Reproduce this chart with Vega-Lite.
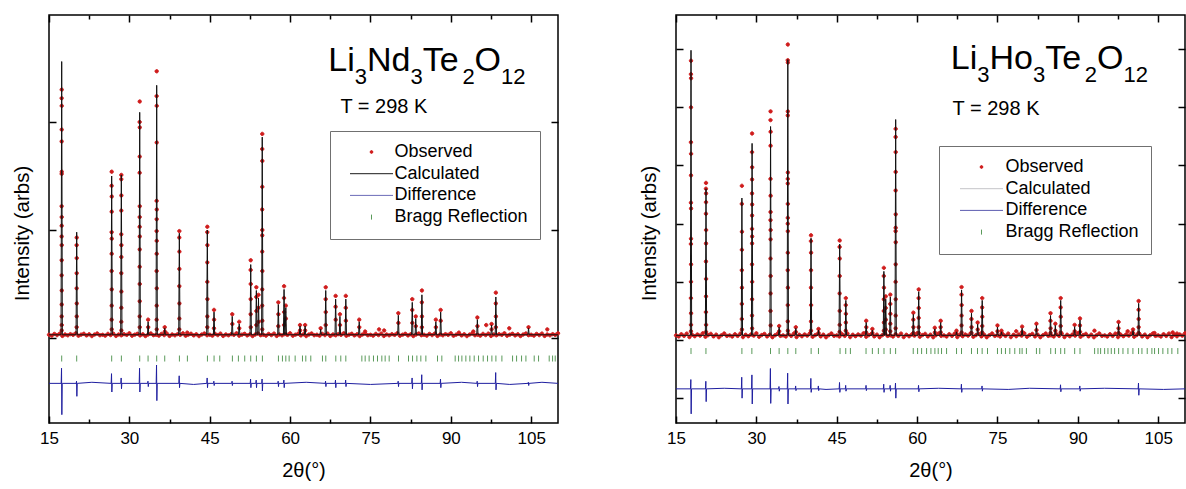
{
"$schema":"https://vega.github.io/schema/vega-lite/v6.json",
"background":"white",
"padding":{"left":11,"top":13,"right":2,"bottom":2},
"spacing":75,
"datasets":{
"nd_o":[
{"t":15,"i":0.03},{"t":15.5,"i":0.022},{"t":16,"i":0.038},{"t":16.5,"i":0.027},{"t":17,"i":0.041},{"t":17.5,"i":0.019},{"t":18,"i":0.033},{"t":18.5,"i":0.025},{"t":19,"i":0.036},{"t":19.5,"i":0.029},{"t":20,"i":0.044},{"t":20.5,"i":0.021},{"t":21,"i":0.031},{"t":21.5,"i":0.039},{"t":22,"i":0.024},{"t":22.5,"i":0.035},{"t":23,"i":0.018},{"t":23.5,"i":0.032},{"t":24,"i":0.042},{"t":24.5,"i":0.026},
{"t":25,"i":0.03},{"t":25.5,"i":0.022},{"t":26,"i":0.038},{"t":26.5,"i":0.027},{"t":27,"i":0.041},{"t":27.5,"i":0.019},{"t":28,"i":0.033},{"t":28.5,"i":0.025},{"t":29,"i":0.036},{"t":29.5,"i":0.029},{"t":30,"i":0.044},{"t":30.5,"i":0.021},{"t":31,"i":0.031},{"t":31.5,"i":0.039},{"t":32,"i":0.024},{"t":32.5,"i":0.035},{"t":33,"i":0.018},{"t":33.5,"i":0.032},{"t":34,"i":0.042},{"t":34.5,"i":0.026},
{"t":35,"i":0.03},{"t":35.5,"i":0.022},{"t":36,"i":0.038},{"t":36.5,"i":0.027},{"t":37,"i":0.041},{"t":37.5,"i":0.019},{"t":38,"i":0.033},{"t":38.5,"i":0.025},{"t":39,"i":0.036},{"t":39.5,"i":0.029},{"t":40,"i":0.044},{"t":40.5,"i":0.021},{"t":41,"i":0.031},{"t":41.5,"i":0.039},{"t":42,"i":0.024},{"t":42.5,"i":0.035},{"t":43,"i":0.018},{"t":43.5,"i":0.032},{"t":44,"i":0.042},{"t":44.5,"i":0.026},
{"t":45,"i":0.03},{"t":45.5,"i":0.022},{"t":46,"i":0.038},{"t":46.5,"i":0.027},{"t":47,"i":0.041},{"t":47.5,"i":0.019},{"t":48,"i":0.033},{"t":48.5,"i":0.025},{"t":49,"i":0.036},{"t":49.5,"i":0.029},{"t":50,"i":0.044},{"t":50.5,"i":0.021},{"t":51,"i":0.031},{"t":51.5,"i":0.039},{"t":52,"i":0.024},{"t":52.5,"i":0.035},{"t":53,"i":0.018},{"t":53.5,"i":0.032},{"t":54,"i":0.042},{"t":54.5,"i":0.026},
{"t":55,"i":0.03},{"t":55.5,"i":0.022},{"t":56,"i":0.038},{"t":56.5,"i":0.027},{"t":57,"i":0.041},{"t":57.5,"i":0.019},{"t":58,"i":0.033},{"t":58.5,"i":0.025},{"t":59,"i":0.036},{"t":59.5,"i":0.029},{"t":60,"i":0.044},{"t":60.5,"i":0.021},{"t":61,"i":0.031},{"t":61.5,"i":0.039},{"t":62,"i":0.024},{"t":62.5,"i":0.035},{"t":63,"i":0.018},{"t":63.5,"i":0.032},{"t":64,"i":0.042},{"t":64.5,"i":0.026},
{"t":65,"i":0.03},{"t":65.5,"i":0.022},{"t":66,"i":0.038},{"t":66.5,"i":0.027},{"t":67,"i":0.041},{"t":67.5,"i":0.019},{"t":68,"i":0.033},{"t":68.5,"i":0.025},{"t":69,"i":0.036},{"t":69.5,"i":0.029},{"t":70,"i":0.044},{"t":70.5,"i":0.021},{"t":71,"i":0.031},{"t":71.5,"i":0.039},{"t":72,"i":0.024},{"t":72.5,"i":0.035},{"t":73,"i":0.018},{"t":73.5,"i":0.032},{"t":74,"i":0.042},{"t":74.5,"i":0.026},
{"t":75,"i":0.03},{"t":75.5,"i":0.022},{"t":76,"i":0.038},{"t":76.5,"i":0.027},{"t":77,"i":0.041},{"t":77.5,"i":0.019},{"t":78,"i":0.033},{"t":78.5,"i":0.025},{"t":79,"i":0.036},{"t":79.5,"i":0.029},{"t":80,"i":0.044},{"t":80.5,"i":0.021},{"t":81,"i":0.031},{"t":81.5,"i":0.039},{"t":82,"i":0.024},{"t":82.5,"i":0.035},{"t":83,"i":0.018},{"t":83.5,"i":0.032},{"t":84,"i":0.042},{"t":84.5,"i":0.026},
{"t":85,"i":0.03},{"t":85.5,"i":0.022},{"t":86,"i":0.038},{"t":86.5,"i":0.027},{"t":87,"i":0.041},{"t":87.5,"i":0.019},{"t":88,"i":0.033},{"t":88.5,"i":0.025},{"t":89,"i":0.036},{"t":89.5,"i":0.029},{"t":90,"i":0.044},{"t":90.5,"i":0.021},{"t":91,"i":0.031},{"t":91.5,"i":0.039},{"t":92,"i":0.024},{"t":92.5,"i":0.035},{"t":93,"i":0.018},{"t":93.5,"i":0.032},{"t":94,"i":0.042},{"t":94.5,"i":0.026},
{"t":95,"i":0.03},{"t":95.5,"i":0.022},{"t":96,"i":0.038},{"t":96.5,"i":0.027},{"t":97,"i":0.041},{"t":97.5,"i":0.019},{"t":98,"i":0.033},{"t":98.5,"i":0.025},{"t":99,"i":0.036},{"t":99.5,"i":0.029},{"t":100,"i":0.044},{"t":100.5,"i":0.021},{"t":101,"i":0.031},{"t":101.5,"i":0.039},{"t":102,"i":0.024},{"t":102.5,"i":0.035},{"t":103,"i":0.018},{"t":103.5,"i":0.032},{"t":104,"i":0.042},{"t":104.5,"i":0.026},
{"t":105,"i":0.03},{"t":105.5,"i":0.022},{"t":106,"i":0.038},{"t":106.5,"i":0.027},{"t":107,"i":0.041},{"t":107.5,"i":0.019},{"t":108,"i":0.033},{"t":108.5,"i":0.025},{"t":109,"i":0.036},{"t":109.5,"i":0.029},{"t":110,"i":0.044},
{"t":17.37,"i":2.3},{"t":17.36,"i":2.22},{"t":17.38,"i":2.15},{"t":17.37,"i":1.93},{"t":17.36,"i":1.82},{"t":17.38,"i":1.54},{"t":17.37,"i":1.52},{"t":17.36,"i":1.22},{"t":17.38,"i":1.12},{"t":17.37,"i":1.04},{"t":17.36,"i":0.94},{"t":17.38,"i":0.86},{"t":17.37,"i":0.72},{"t":17.36,"i":0.58},{"t":17.38,"i":0.44},{"t":17.37,"i":0.31},{"t":17.36,"i":0.2},{"t":17.38,"i":0.12},{"t":17.37,"i":0.07},
{"t":20.17,"i":0.93},{"t":20.16,"i":0.86},{"t":20.18,"i":0.74},{"t":20.17,"i":0.6},{"t":20.16,"i":0.46},{"t":20.18,"i":0.32},{"t":20.17,"i":0.2},{"t":20.16,"i":0.1},
{"t":26.7,"i":1.54},{"t":26.69,"i":1.41},{"t":26.71,"i":1.31},{"t":26.7,"i":1.17},{"t":26.69,"i":0.98},{"t":26.71,"i":0.92},{"t":26.7,"i":0.78},{"t":26.69,"i":0.62},{"t":26.71,"i":0.45},{"t":26.7,"i":0.3},{"t":26.69,"i":0.17},{"t":26.71,"i":0.08},
{"t":28.5,"i":1.51},{"t":28.49,"i":1.47},{"t":28.51,"i":1.32},{"t":28.5,"i":1.18},{"t":28.49,"i":0.96},{"t":28.51,"i":0.86},{"t":28.5,"i":0.75},{"t":28.49,"i":0.6},{"t":28.51,"i":0.43},{"t":28.5,"i":0.28},{"t":28.49,"i":0.15},{"t":28.51,"i":0.07},
{"t":31.93,"i":2.19},{"t":31.92,"i":2.0},{"t":31.94,"i":1.95},{"t":31.93,"i":1.68},{"t":31.92,"i":1.53},{"t":31.94,"i":1.22},{"t":31.93,"i":1.12},{"t":31.92,"i":1.03},{"t":31.94,"i":0.94},{"t":31.93,"i":0.82},{"t":31.92,"i":0.66},{"t":31.94,"i":0.5},{"t":31.93,"i":0.34},{"t":31.92,"i":0.2},{"t":31.94,"i":0.1},
{"t":33.5,"i":0.17},{"t":33.51,"i":0.1},
{"t":35.1,"i":2.47},{"t":35.09,"i":2.24},{"t":35.11,"i":2.15},{"t":35.1,"i":1.81},{"t":35.09,"i":1.27},{"t":35.11,"i":1.19},{"t":35.1,"i":1.1},{"t":35.09,"i":0.99},{"t":35.11,"i":0.9},{"t":35.1,"i":0.78},{"t":35.09,"i":0.62},{"t":35.11,"i":0.46},{"t":35.1,"i":0.3},{"t":35.09,"i":0.17},{"t":35.11,"i":0.08},
{"t":36.6,"i":0.1},{"t":36.61,"i":0.06},
{"t":39.33,"i":0.99},{"t":39.32,"i":0.93},{"t":39.34,"i":0.8},{"t":39.33,"i":0.64},{"t":39.32,"i":0.48},{"t":39.34,"i":0.32},{"t":39.33,"i":0.18},{"t":39.32,"i":0.08},
{"t":40.8,"i":0.05},
{"t":44.55,"i":1.03},{"t":44.54,"i":0.98},{"t":44.56,"i":0.86},{"t":44.55,"i":0.7},{"t":44.54,"i":0.52},{"t":44.56,"i":0.36},{"t":44.55,"i":0.2},{"t":44.54,"i":0.1},
{"t":45.8,"i":0.26},{"t":45.81,"i":0.17},{"t":45.79,"i":0.09},
{"t":49.2,"i":0.22},{"t":49.21,"i":0.13},
{"t":50.5,"i":0.15},{"t":50.51,"i":0.09},
{"t":52.65,"i":0.72},{"t":52.64,"i":0.63},{"t":52.66,"i":0.5},{"t":52.65,"i":0.36},{"t":52.64,"i":0.22},{"t":52.66,"i":0.1},
{"t":53.7,"i":0.47},{"t":53.69,"i":0.38},{"t":53.71,"i":0.25},{"t":53.7,"i":0.12},
{"t":54.1,"i":0.4},{"t":54.09,"i":0.28},{"t":54.11,"i":0.15},
{"t":54.8,"i":1.89},{"t":54.79,"i":1.75},{"t":54.81,"i":1.64},{"t":54.8,"i":1.4},{"t":54.79,"i":1.19},{"t":54.81,"i":1.0},{"t":54.8,"i":0.95},{"t":54.79,"i":0.8},{"t":54.81,"i":0.62},{"t":54.8,"i":0.45},{"t":54.79,"i":0.3},{"t":54.81,"i":0.16},{"t":54.8,"i":0.08},
{"t":57.8,"i":0.33},{"t":57.81,"i":0.22},{"t":57.79,"i":0.11},
{"t":58.87,"i":0.48},{"t":58.86,"i":0.37},{"t":58.88,"i":0.24},{"t":58.87,"i":0.12},
{"t":59.2,"i":0.3},{"t":59.21,"i":0.18},
{"t":61.85,"i":0.12},{"t":61.86,"i":0.07},
{"t":62.8,"i":0.12},{"t":62.81,"i":0.07},
{"t":65.7,"i":0.09},
{"t":66.65,"i":0.47},{"t":66.64,"i":0.36},{"t":66.66,"i":0.24},{"t":66.65,"i":0.12},
{"t":68.5,"i":0.39},{"t":68.49,"i":0.29},{"t":68.51,"i":0.17},
{"t":69.3,"i":0.22},{"t":69.31,"i":0.12},
{"t":70.4,"i":0.39},{"t":70.39,"i":0.28},{"t":70.41,"i":0.16},
{"t":72.9,"i":0.17},{"t":72.91,"i":0.1},
{"t":74,"i":0.06},{"t":76.6,"i":0.08},{"t":77.55,"i":0.07},
{"t":80.2,"i":0.23},{"t":80.21,"i":0.14},
{"t":82.8,"i":0.36},{"t":82.79,"i":0.26},{"t":82.81,"i":0.14},
{"t":83.45,"i":0.2},{"t":83.46,"i":0.11},
{"t":84.6,"i":0.44},{"t":84.59,"i":0.33},{"t":84.61,"i":0.2},{"t":84.6,"i":0.1},
{"t":87.2,"i":0.17},{"t":87.21,"i":0.1},
{"t":88.1,"i":0.26},{"t":88.11,"i":0.16},
{"t":91.5,"i":0.05},{"t":94.2,"i":0.06},
{"t":94.95,"i":0.19},{"t":94.96,"i":0.11},
{"t":96.6,"i":0.12},
{"t":97.6,"i":0.13},{"t":97.61,"i":0.08},
{"t":98.4,"i":0.42},{"t":98.39,"i":0.32},{"t":98.41,"i":0.2},{"t":98.4,"i":0.1},
{"t":100.9,"i":0.09},{"t":104.5,"i":0.1},{"t":108,"i":0.08}
],
"nd_c":[
{"t":15,"i":0.03},
{"t":17.25,"i":0.03},{"t":17.37,"i":2.56},{"t":17.49,"i":0.03},
{"t":20.05,"i":0.03},{"t":20.17,"i":0.98},{"t":20.29,"i":0.03},
{"t":26.58,"i":0.03},{"t":26.7,"i":1.5},{"t":26.82,"i":0.03},
{"t":28.38,"i":0.03},{"t":28.5,"i":1.51},{"t":28.62,"i":0.03},
{"t":31.81,"i":0.03},{"t":31.93,"i":2.09},{"t":32.05,"i":0.03},
{"t":33.38,"i":0.03},{"t":33.5,"i":0.15},{"t":33.62,"i":0.03},
{"t":34.98,"i":0.03},{"t":35.1,"i":2.34},{"t":35.22,"i":0.03},
{"t":36.48,"i":0.03},{"t":36.6,"i":0.09},{"t":36.72,"i":0.03},
{"t":39.21,"i":0.03},{"t":39.33,"i":0.97},{"t":39.45,"i":0.03},
{"t":44.43,"i":0.03},{"t":44.55,"i":1.0},{"t":44.67,"i":0.03},
{"t":45.68,"i":0.03},{"t":45.8,"i":0.24},{"t":45.92,"i":0.03},
{"t":49.08,"i":0.03},{"t":49.2,"i":0.2},{"t":49.32,"i":0.03},
{"t":50.38,"i":0.03},{"t":50.5,"i":0.13},{"t":50.62,"i":0.03},
{"t":52.53,"i":0.03},{"t":52.65,"i":0.68},{"t":52.77,"i":0.03},
{"t":53.58,"i":0.03},{"t":53.7,"i":0.44},{"t":53.82,"i":0.03},
{"t":53.98,"i":0.03},{"t":54.1,"i":0.37},{"t":54.22,"i":0.03},
{"t":54.68,"i":0.03},{"t":54.8,"i":1.86},{"t":54.92,"i":0.03},
{"t":57.68,"i":0.03},{"t":57.8,"i":0.31},{"t":57.92,"i":0.03},
{"t":58.75,"i":0.03},{"t":58.87,"i":0.45},{"t":58.99,"i":0.03},
{"t":59.08,"i":0.03},{"t":59.2,"i":0.28},{"t":59.32,"i":0.03},
{"t":61.73,"i":0.03},{"t":61.85,"i":0.11},{"t":61.97,"i":0.03},
{"t":62.68,"i":0.03},{"t":62.8,"i":0.11},{"t":62.92,"i":0.03},
{"t":65.58,"i":0.03},{"t":65.7,"i":0.08},{"t":65.82,"i":0.03},
{"t":66.53,"i":0.03},{"t":66.65,"i":0.44},{"t":66.77,"i":0.03},
{"t":68.38,"i":0.03},{"t":68.5,"i":0.36},{"t":68.62,"i":0.03},
{"t":69.18,"i":0.03},{"t":69.3,"i":0.2},{"t":69.42,"i":0.03},
{"t":70.28,"i":0.03},{"t":70.4,"i":0.36},{"t":70.52,"i":0.03},
{"t":72.78,"i":0.03},{"t":72.9,"i":0.15},{"t":73.02,"i":0.03},
{"t":80.08,"i":0.03},{"t":80.2,"i":0.21},{"t":80.32,"i":0.03},
{"t":82.68,"i":0.03},{"t":82.8,"i":0.33},{"t":82.92,"i":0.03},
{"t":83.33,"i":0.03},{"t":83.45,"i":0.18},{"t":83.57,"i":0.03},
{"t":84.48,"i":0.03},{"t":84.6,"i":0.4},{"t":84.72,"i":0.03},
{"t":87.08,"i":0.03},{"t":87.2,"i":0.15},{"t":87.32,"i":0.03},
{"t":87.98,"i":0.03},{"t":88.1,"i":0.24},{"t":88.22,"i":0.03},
{"t":94.83,"i":0.03},{"t":94.95,"i":0.17},{"t":95.07,"i":0.03},
{"t":97.48,"i":0.03},{"t":97.6,"i":0.12},{"t":97.72,"i":0.03},
{"t":98.28,"i":0.03},{"t":98.4,"i":0.38},{"t":98.52,"i":0.03},
{"t":104.38,"i":0.03},{"t":104.5,"i":0.09},{"t":104.62,"i":0.03},
{"t":110,"i":0.03}
],
"nd_d":[
{"t":15,"i":-0.42},
{"t":17.27,"i":-0.42},{"t":17.34,"i":-0.28},{"t":17.4,"i":-0.71},{"t":17.47,"i":-0.42},
{"t":20.07,"i":-0.42},{"t":20.14,"i":-0.4},{"t":20.2,"i":-0.54},{"t":20.27,"i":-0.42},
{"t":23,"i":-0.41},
{"t":26.6,"i":-0.42},{"t":26.67,"i":-0.33},{"t":26.73,"i":-0.5},{"t":26.8,"i":-0.42},
{"t":28.4,"i":-0.42},{"t":28.47,"i":-0.37},{"t":28.53,"i":-0.47},{"t":28.6,"i":-0.42},
{"t":31.83,"i":-0.42},{"t":31.9,"i":-0.28},{"t":31.96,"i":-0.5},{"t":32.03,"i":-0.42},
{"t":33.4,"i":-0.42},{"t":33.47,"i":-0.4},{"t":33.53,"i":-0.45},{"t":33.6,"i":-0.42},
{"t":35,"i":-0.42},{"t":35.07,"i":-0.25},{"t":35.13,"i":-0.58},{"t":35.2,"i":-0.42},
{"t":39.23,"i":-0.42},{"t":39.3,"i":-0.35},{"t":39.36,"i":-0.46},{"t":39.43,"i":-0.42},
{"t":42,"i":-0.43},
{"t":44.45,"i":-0.42},{"t":44.52,"i":-0.37},{"t":44.58,"i":-0.46},{"t":44.65,"i":-0.42},
{"t":45.7,"i":-0.42},{"t":45.77,"i":-0.4},{"t":45.83,"i":-0.44},{"t":45.9,"i":-0.42},
{"t":49.1,"i":-0.42},{"t":49.17,"i":-0.4},{"t":49.23,"i":-0.44},{"t":49.3,"i":-0.42},
{"t":52.55,"i":-0.42},{"t":52.62,"i":-0.38},{"t":52.68,"i":-0.46},{"t":52.75,"i":-0.42},
{"t":53.6,"i":-0.42},{"t":53.67,"i":-0.39},{"t":53.73,"i":-0.46},{"t":53.8,"i":-0.42},
{"t":54.7,"i":-0.42},{"t":54.77,"i":-0.38},{"t":54.83,"i":-0.49},{"t":54.9,"i":-0.42},
{"t":57.7,"i":-0.42},{"t":57.77,"i":-0.4},{"t":57.83,"i":-0.45},{"t":57.9,"i":-0.42},
{"t":58.77,"i":-0.42},{"t":58.84,"i":-0.39},{"t":58.9,"i":-0.46},{"t":58.97,"i":-0.42},
{"t":63,"i":-0.41},
{"t":66.55,"i":-0.42},{"t":66.62,"i":-0.4},{"t":66.68,"i":-0.45},{"t":66.75,"i":-0.42},
{"t":68.4,"i":-0.42},{"t":68.47,"i":-0.39},{"t":68.53,"i":-0.46},{"t":68.6,"i":-0.42},
{"t":70.3,"i":-0.42},{"t":70.37,"i":-0.39},{"t":70.43,"i":-0.45},{"t":70.5,"i":-0.42},
{"t":75,"i":-0.43},
{"t":80.1,"i":-0.42},{"t":80.17,"i":-0.4},{"t":80.23,"i":-0.45},{"t":80.3,"i":-0.42},
{"t":82.7,"i":-0.42},{"t":82.77,"i":-0.37},{"t":82.83,"i":-0.47},{"t":82.9,"i":-0.42},
{"t":84.5,"i":-0.42},{"t":84.57,"i":-0.34},{"t":84.63,"i":-0.48},{"t":84.7,"i":-0.42},
{"t":88,"i":-0.42},{"t":88.07,"i":-0.38},{"t":88.13,"i":-0.46},{"t":88.2,"i":-0.42},
{"t":92,"i":-0.41},
{"t":94.85,"i":-0.42},{"t":94.92,"i":-0.4},{"t":94.98,"i":-0.45},{"t":95.05,"i":-0.42},
{"t":98.3,"i":-0.42},{"t":98.37,"i":-0.32},{"t":98.43,"i":-0.48},{"t":98.5,"i":-0.42},
{"t":101,"i":-0.43},
{"t":104.4,"i":-0.42},{"t":104.47,"i":-0.41},{"t":104.53,"i":-0.44},{"t":104.6,"i":-0.42},
{"t":107,"i":-0.41},
{"t":110,"i":-0.42}
],
"nd_b":[
{"t":17.37},{"t":20.17},{"t":26.7},{"t":28.51},{"t":31.93},{"t":33.49},{"t":35.1},{"t":36.6},{"t":39.34},{"t":40.83},{"t":44.57},{"t":45.81},{"t":46.87},{"t":49.23},{"t":50.35},{"t":51.53},{"t":52.65},{"t":53.71},{"t":54.83},{"t":57.82},{"t":58.57},{"t":59.2},{"t":59.82},{"t":60.94},{"t":62.31},{"t":62.93},{"t":63.86},{"t":66.04},{"t":66.66},{"t":68.53},{"t":69.46},{"t":70.4},{"t":73.39},{"t":74.01},{"t":74.75},{"t":75.56},{"t":76.31},{"t":77.12},{"t":77.74},{"t":78.49},{"t":80.23},{"t":82.1},{"t":82.85},{"t":83.66},{"t":84.4},{"t":85.34},{"t":87.51},{"t":88.32},{"t":90.81},{"t":91.44},{"t":92.06},{"t":92.8},{"t":93.55},{"t":94.36},{"t":95.17},{"t":96.04},{"t":96.85},{"t":97.66},{"t":98.41},{"t":99.53},{"t":101.52},{"t":102.27},{"t":103.2},{"t":104.01},{"t":105.56},{"t":106.37},{"t":108.36},{"t":108.99},{"t":109.48}
],
"ho_o":[
{"t":15,"i":0.08},{"t":15.5,"i":0.06},{"t":16,"i":0.1},{"t":16.5,"i":0.07},{"t":17,"i":0.11},{"t":17.5,"i":0.05},{"t":18,"i":0.09},{"t":18.5,"i":0.065},{"t":19,"i":0.095},{"t":19.5,"i":0.075},{"t":20,"i":0.115},{"t":20.5,"i":0.055},{"t":21,"i":0.085},{"t":21.5,"i":0.105},{"t":22,"i":0.062},{"t":22.5,"i":0.092},{"t":23,"i":0.048},{"t":23.5,"i":0.083},{"t":24,"i":0.112},{"t":24.5,"i":0.07},
{"t":25,"i":0.08},{"t":25.5,"i":0.06},{"t":26,"i":0.1},{"t":26.5,"i":0.07},{"t":27,"i":0.11},{"t":27.5,"i":0.05},{"t":28,"i":0.09},{"t":28.5,"i":0.065},{"t":29,"i":0.095},{"t":29.5,"i":0.075},{"t":30,"i":0.115},{"t":30.5,"i":0.055},{"t":31,"i":0.085},{"t":31.5,"i":0.105},{"t":32,"i":0.062},{"t":32.5,"i":0.092},{"t":33,"i":0.048},{"t":33.5,"i":0.083},{"t":34,"i":0.112},{"t":34.5,"i":0.07},
{"t":35,"i":0.08},{"t":35.5,"i":0.06},{"t":36,"i":0.1},{"t":36.5,"i":0.07},{"t":37,"i":0.11},{"t":37.5,"i":0.05},{"t":38,"i":0.09},{"t":38.5,"i":0.065},{"t":39,"i":0.095},{"t":39.5,"i":0.075},{"t":40,"i":0.115},{"t":40.5,"i":0.055},{"t":41,"i":0.085},{"t":41.5,"i":0.105},{"t":42,"i":0.062},{"t":42.5,"i":0.092},{"t":43,"i":0.048},{"t":43.5,"i":0.083},{"t":44,"i":0.112},{"t":44.5,"i":0.07},
{"t":45,"i":0.08},{"t":45.5,"i":0.06},{"t":46,"i":0.1},{"t":46.5,"i":0.07},{"t":47,"i":0.11},{"t":47.5,"i":0.05},{"t":48,"i":0.09},{"t":48.5,"i":0.065},{"t":49,"i":0.095},{"t":49.5,"i":0.075},{"t":50,"i":0.115},{"t":50.5,"i":0.055},{"t":51,"i":0.085},{"t":51.5,"i":0.105},{"t":52,"i":0.062},{"t":52.5,"i":0.092},{"t":53,"i":0.048},{"t":53.5,"i":0.083},{"t":54,"i":0.112},{"t":54.5,"i":0.07},
{"t":55,"i":0.08},{"t":55.5,"i":0.06},{"t":56,"i":0.1},{"t":56.5,"i":0.07},{"t":57,"i":0.11},{"t":57.5,"i":0.05},{"t":58,"i":0.09},{"t":58.5,"i":0.065},{"t":59,"i":0.095},{"t":59.5,"i":0.075},{"t":60,"i":0.115},{"t":60.5,"i":0.055},{"t":61,"i":0.085},{"t":61.5,"i":0.105},{"t":62,"i":0.062},{"t":62.5,"i":0.092},{"t":63,"i":0.048},{"t":63.5,"i":0.083},{"t":64,"i":0.112},{"t":64.5,"i":0.07},
{"t":65,"i":0.08},{"t":65.5,"i":0.06},{"t":66,"i":0.1},{"t":66.5,"i":0.07},{"t":67,"i":0.11},{"t":67.5,"i":0.05},{"t":68,"i":0.09},{"t":68.5,"i":0.065},{"t":69,"i":0.095},{"t":69.5,"i":0.075},{"t":70,"i":0.115},{"t":70.5,"i":0.055},{"t":71,"i":0.085},{"t":71.5,"i":0.105},{"t":72,"i":0.062},{"t":72.5,"i":0.092},{"t":73,"i":0.048},{"t":73.5,"i":0.083},{"t":74,"i":0.112},{"t":74.5,"i":0.07},
{"t":75,"i":0.08},{"t":75.5,"i":0.06},{"t":76,"i":0.1},{"t":76.5,"i":0.07},{"t":77,"i":0.11},{"t":77.5,"i":0.05},{"t":78,"i":0.09},{"t":78.5,"i":0.065},{"t":79,"i":0.095},{"t":79.5,"i":0.075},{"t":80,"i":0.115},{"t":80.5,"i":0.055},{"t":81,"i":0.085},{"t":81.5,"i":0.105},{"t":82,"i":0.062},{"t":82.5,"i":0.092},{"t":83,"i":0.048},{"t":83.5,"i":0.083},{"t":84,"i":0.112},{"t":84.5,"i":0.07},
{"t":85,"i":0.08},{"t":85.5,"i":0.06},{"t":86,"i":0.1},{"t":86.5,"i":0.07},{"t":87,"i":0.11},{"t":87.5,"i":0.05},{"t":88,"i":0.09},{"t":88.5,"i":0.065},{"t":89,"i":0.095},{"t":89.5,"i":0.075},{"t":90,"i":0.115},{"t":90.5,"i":0.055},{"t":91,"i":0.085},{"t":91.5,"i":0.105},{"t":92,"i":0.062},{"t":92.5,"i":0.092},{"t":93,"i":0.048},{"t":93.5,"i":0.083},{"t":94,"i":0.112},{"t":94.5,"i":0.07},
{"t":95,"i":0.08},{"t":95.5,"i":0.06},{"t":96,"i":0.1},{"t":96.5,"i":0.07},{"t":97,"i":0.11},{"t":97.5,"i":0.05},{"t":98,"i":0.09},{"t":98.5,"i":0.065},{"t":99,"i":0.095},{"t":99.5,"i":0.075},{"t":100,"i":0.115},{"t":100.5,"i":0.055},{"t":101,"i":0.085},{"t":101.5,"i":0.105},{"t":102,"i":0.062},{"t":102.5,"i":0.092},{"t":103,"i":0.048},{"t":103.5,"i":0.083},{"t":104,"i":0.112},{"t":104.5,"i":0.07},
{"t":105,"i":0.08},{"t":105.5,"i":0.06},{"t":106,"i":0.1},{"t":106.5,"i":0.07},{"t":107,"i":0.11},{"t":107.5,"i":0.05},{"t":108,"i":0.09},{"t":108.5,"i":0.065},{"t":109,"i":0.095},{"t":109.5,"i":0.075},{"t":110,"i":0.115},
{"t":17.8,"i":4.8},{"t":17.79,"i":4.57},{"t":17.81,"i":4.5},{"t":17.8,"i":4.0},{"t":17.79,"i":3.4},{"t":17.81,"i":3.2},{"t":17.8,"i":2.83},{"t":17.79,"i":2.36},{"t":17.81,"i":2.26},{"t":17.8,"i":1.74},{"t":17.79,"i":1.65},{"t":17.81,"i":1.3},{"t":17.8,"i":1.0},{"t":17.79,"i":0.72},{"t":17.81,"i":0.46},{"t":17.8,"i":0.26},{"t":17.79,"i":0.15},
{"t":20.6,"i":2.7},{"t":20.59,"i":2.6},{"t":20.61,"i":2.52},{"t":20.6,"i":2.37},{"t":20.59,"i":2.17},{"t":20.61,"i":1.89},{"t":20.6,"i":1.66},{"t":20.59,"i":1.35},{"t":20.61,"i":1.05},{"t":20.6,"i":0.75},{"t":20.59,"i":0.48},{"t":20.61,"i":0.26},{"t":20.6,"i":0.14},
{"t":27.3,"i":2.65},{"t":27.29,"i":2.34},{"t":27.31,"i":1.86},{"t":27.3,"i":1.55},{"t":27.29,"i":1.2},{"t":27.31,"i":0.9},{"t":27.3,"i":0.62},{"t":27.29,"i":0.36},{"t":27.31,"i":0.18},
{"t":29.2,"i":3.55},{"t":29.19,"i":3.23},{"t":29.21,"i":2.97},{"t":29.2,"i":2.76},{"t":29.19,"i":2.52},{"t":29.21,"i":2.33},{"t":29.2,"i":2.14},{"t":29.19,"i":1.91},{"t":29.21,"i":1.78},{"t":29.2,"i":1.66},{"t":29.19,"i":1.3},{"t":29.21,"i":1.0},{"t":29.2,"i":0.7},{"t":29.19,"i":0.42},{"t":29.21,"i":0.2},
{"t":32.65,"i":3.93},{"t":32.64,"i":3.78},{"t":32.66,"i":3.58},{"t":32.65,"i":3.34},{"t":32.64,"i":2.77},{"t":32.66,"i":2.48},{"t":32.65,"i":2.2},{"t":32.64,"i":2.06},{"t":32.66,"i":1.89},{"t":32.65,"i":1.73},{"t":32.64,"i":1.4},{"t":32.66,"i":1.1},{"t":32.65,"i":0.8},{"t":32.64,"i":0.5},{"t":32.66,"i":0.25},
{"t":34.25,"i":0.24},{"t":34.26,"i":0.15},
{"t":35.87,"i":5.08},{"t":35.86,"i":4.81},{"t":35.88,"i":4.77},{"t":35.87,"i":3.93},{"t":35.86,"i":3.86},{"t":35.88,"i":2.88},{"t":35.87,"i":2.77},{"t":35.86,"i":2.69},{"t":35.88,"i":2.34},{"t":35.87,"i":2.1},{"t":35.86,"i":2.0},{"t":35.88,"i":1.87},{"t":35.87,"i":1.5},{"t":35.86,"i":1.2},{"t":35.88,"i":0.9},{"t":35.87,"i":0.6},{"t":35.86,"i":0.32},{"t":35.88,"i":0.16},
{"t":37.36,"i":0.22},{"t":37.37,"i":0.14},
{"t":40.2,"i":1.8},{"t":40.19,"i":1.7},{"t":40.21,"i":1.5},{"t":40.2,"i":1.2},{"t":40.19,"i":0.9},{"t":40.21,"i":0.6},{"t":40.2,"i":0.32},{"t":40.19,"i":0.16},
{"t":41.6,"i":0.19},{"t":41.61,"i":0.12},
{"t":45.55,"i":1.71},{"t":45.54,"i":1.6},{"t":45.56,"i":1.4},{"t":45.55,"i":1.1},{"t":45.54,"i":0.8},{"t":45.56,"i":0.5},{"t":45.55,"i":0.26},{"t":45.54,"i":0.14},
{"t":46.7,"i":0.72},{"t":46.69,"i":0.6},{"t":46.71,"i":0.45},{"t":46.7,"i":0.3},{"t":46.69,"i":0.16},
{"t":50.5,"i":0.33},{"t":50.51,"i":0.22},{"t":50.49,"i":0.13},
{"t":51.65,"i":0.19},{"t":51.66,"i":0.12},
{"t":53.8,"i":1.24},{"t":53.79,"i":1.1},{"t":53.81,"i":0.9},{"t":53.8,"i":0.7},{"t":53.79,"i":0.5},{"t":53.81,"i":0.3},{"t":53.8,"i":0.16},
{"t":54.15,"i":0.75},{"t":54.14,"i":0.55},{"t":54.16,"i":0.35},{"t":54.15,"i":0.18},
{"t":55,"i":0.78},{"t":54.99,"i":0.62},{"t":55.01,"i":0.45},{"t":55,"i":0.28},{"t":54.99,"i":0.15},
{"t":56,"i":3.63},{"t":55.99,"i":3.49},{"t":56.01,"i":3.23},{"t":56,"i":2.89},{"t":55.99,"i":2.57},{"t":56.01,"i":2.16},{"t":56,"i":1.93},{"t":55.99,"i":1.87},{"t":56.01,"i":1.68},{"t":56,"i":1.3},{"t":55.99,"i":1.0},{"t":56.01,"i":0.7},{"t":56,"i":0.42},{"t":55.99,"i":0.2},
{"t":59.3,"i":0.47},{"t":59.29,"i":0.35},{"t":59.31,"i":0.22},{"t":59.3,"i":0.12},
{"t":60.3,"i":0.87},{"t":60.29,"i":0.72},{"t":60.31,"i":0.55},{"t":60.3,"i":0.38},{"t":60.29,"i":0.22},{"t":60.31,"i":0.12},
{"t":63.3,"i":0.21},{"t":63.31,"i":0.13},
{"t":64.4,"i":0.33},{"t":64.39,"i":0.22},{"t":64.41,"i":0.13},
{"t":67.35,"i":0.16},{"t":67.36,"i":0.11},
{"t":68.3,"i":0.91},{"t":68.29,"i":0.78},{"t":68.31,"i":0.6},{"t":68.3,"i":0.42},{"t":68.29,"i":0.25},{"t":68.31,"i":0.13},
{"t":70.15,"i":0.5},{"t":70.14,"i":0.36},{"t":70.16,"i":0.22},{"t":70.15,"i":0.12},
{"t":71.3,"i":0.3},{"t":71.31,"i":0.18},
{"t":72.15,"i":0.72},{"t":72.14,"i":0.56},{"t":72.16,"i":0.4},{"t":72.15,"i":0.24},{"t":72.14,"i":0.13},
{"t":75,"i":0.25},{"t":75.01,"i":0.15},
{"t":75.75,"i":0.16},{"t":75.76,"i":0.11},
{"t":78.5,"i":0.15},
{"t":79.6,"i":0.23},{"t":79.61,"i":0.14},
{"t":82.27,"i":0.28},{"t":82.28,"i":0.17},
{"t":84.9,"i":0.46},{"t":84.89,"i":0.33},{"t":84.91,"i":0.2},{"t":84.9,"i":0.12},
{"t":85.8,"i":0.28},{"t":85.81,"i":0.16},
{"t":86.8,"i":0.72},{"t":86.79,"i":0.56},{"t":86.81,"i":0.4},{"t":86.8,"i":0.24},{"t":86.79,"i":0.13},
{"t":89.4,"i":0.26},{"t":89.41,"i":0.15},
{"t":90.4,"i":0.37},{"t":90.39,"i":0.25},{"t":90.41,"i":0.14},
{"t":93.1,"i":0.16},
{"t":97.6,"i":0.31},{"t":97.59,"i":0.2},{"t":97.61,"i":0.12},
{"t":99.3,"i":0.15},
{"t":100.3,"i":0.18},{"t":100.31,"i":0.12},
{"t":101.35,"i":0.67},{"t":101.34,"i":0.52},{"t":101.36,"i":0.36},{"t":101.35,"i":0.22},{"t":101.34,"i":0.12},
{"t":104.3,"i":0.12},{"t":107.7,"i":0.13},{"t":108.5,"i":0.11}
],
"ho_c":[
{"t":15,"i":0.08},
{"t":17.68,"i":0.08},{"t":17.8,"i":4.98},{"t":17.92,"i":0.08},
{"t":20.48,"i":0.08},{"t":20.6,"i":2.6},{"t":20.72,"i":0.08},
{"t":27.18,"i":0.08},{"t":27.3,"i":2.44},{"t":27.42,"i":0.08},
{"t":29.08,"i":0.08},{"t":29.2,"i":3.38},{"t":29.32,"i":0.08},
{"t":32.53,"i":0.08},{"t":32.65,"i":3.67},{"t":32.77,"i":0.08},
{"t":34.13,"i":0.08},{"t":34.25,"i":0.22},{"t":34.37,"i":0.08},
{"t":35.75,"i":0.08},{"t":35.87,"i":4.82},{"t":35.99,"i":0.08},
{"t":37.24,"i":0.08},{"t":37.36,"i":0.2},{"t":37.48,"i":0.08},
{"t":40.08,"i":0.08},{"t":40.2,"i":1.75},{"t":40.32,"i":0.08},
{"t":41.48,"i":0.08},{"t":41.6,"i":0.17},{"t":41.72,"i":0.08},
{"t":45.43,"i":0.08},{"t":45.55,"i":1.65},{"t":45.67,"i":0.08},
{"t":46.58,"i":0.08},{"t":46.7,"i":0.68},{"t":46.82,"i":0.08},
{"t":50.38,"i":0.08},{"t":50.5,"i":0.3},{"t":50.62,"i":0.08},
{"t":51.53,"i":0.08},{"t":51.65,"i":0.17},{"t":51.77,"i":0.08},
{"t":53.68,"i":0.08},{"t":53.8,"i":1.18},{"t":53.92,"i":0.08},
{"t":54.03,"i":0.08},{"t":54.15,"i":0.7},{"t":54.27,"i":0.08},
{"t":54.88,"i":0.08},{"t":55,"i":0.74},{"t":55.12,"i":0.08},
{"t":55.88,"i":0.08},{"t":56,"i":3.79},{"t":56.12,"i":0.08},
{"t":59.18,"i":0.08},{"t":59.3,"i":0.44},{"t":59.42,"i":0.08},
{"t":60.18,"i":0.08},{"t":60.3,"i":0.83},{"t":60.42,"i":0.08},
{"t":63.18,"i":0.08},{"t":63.3,"i":0.19},{"t":63.42,"i":0.08},
{"t":64.28,"i":0.08},{"t":64.4,"i":0.3},{"t":64.52,"i":0.08},
{"t":67.23,"i":0.08},{"t":67.35,"i":0.14},{"t":67.47,"i":0.08},
{"t":68.18,"i":0.08},{"t":68.3,"i":0.86},{"t":68.42,"i":0.08},
{"t":70.03,"i":0.08},{"t":70.15,"i":0.46},{"t":70.27,"i":0.08},
{"t":71.18,"i":0.08},{"t":71.3,"i":0.27},{"t":71.42,"i":0.08},
{"t":72.03,"i":0.08},{"t":72.15,"i":0.68},{"t":72.27,"i":0.08},
{"t":74.88,"i":0.08},{"t":75,"i":0.22},{"t":75.12,"i":0.08},
{"t":75.63,"i":0.08},{"t":75.75,"i":0.14},{"t":75.87,"i":0.08},
{"t":79.48,"i":0.08},{"t":79.6,"i":0.2},{"t":79.72,"i":0.08},
{"t":82.15,"i":0.08},{"t":82.27,"i":0.25},{"t":82.39,"i":0.08},
{"t":84.78,"i":0.08},{"t":84.9,"i":0.42},{"t":85.02,"i":0.08},
{"t":85.68,"i":0.08},{"t":85.8,"i":0.25},{"t":85.92,"i":0.08},
{"t":86.68,"i":0.08},{"t":86.8,"i":0.68},{"t":86.92,"i":0.08},
{"t":89.28,"i":0.08},{"t":89.4,"i":0.23},{"t":89.52,"i":0.08},
{"t":90.28,"i":0.08},{"t":90.4,"i":0.34},{"t":90.52,"i":0.08},
{"t":97.48,"i":0.08},{"t":97.6,"i":0.28},{"t":97.72,"i":0.08},
{"t":100.18,"i":0.08},{"t":100.3,"i":0.16},{"t":100.42,"i":0.08},
{"t":101.23,"i":0.08},{"t":101.35,"i":0.63},{"t":101.47,"i":0.08},
{"t":110,"i":0.08}
],
"ho_d":[
{"t":15,"i":-0.84},
{"t":17.7,"i":-0.84},{"t":17.77,"i":-0.68},{"t":17.83,"i":-1.27},{"t":17.9,"i":-0.84},
{"t":20.5,"i":-0.84},{"t":20.57,"i":-0.71},{"t":20.63,"i":-1.06},{"t":20.7,"i":-0.84},
{"t":24,"i":-0.83},
{"t":27.2,"i":-0.84},{"t":27.27,"i":-0.64},{"t":27.33,"i":-1.0},{"t":27.4,"i":-0.84},
{"t":29.1,"i":-0.84},{"t":29.17,"i":-0.6},{"t":29.23,"i":-1.1},{"t":29.3,"i":-0.84},
{"t":32.55,"i":-0.84},{"t":32.62,"i":-0.49},{"t":32.68,"i":-1.09},{"t":32.75,"i":-0.84},
{"t":34.15,"i":-0.84},{"t":34.22,"i":-0.8},{"t":34.28,"i":-0.88},{"t":34.35,"i":-0.84},
{"t":35.77,"i":-0.84},{"t":35.84,"i":-0.57},{"t":35.9,"i":-1.1},{"t":35.97,"i":-0.84},
{"t":37.26,"i":-0.84},{"t":37.33,"i":-0.79},{"t":37.39,"i":-0.87},{"t":37.46,"i":-0.84},
{"t":40.1,"i":-0.84},{"t":40.17,"i":-0.66},{"t":40.23,"i":-0.9},{"t":40.3,"i":-0.84},
{"t":41.5,"i":-0.84},{"t":41.57,"i":-0.79},{"t":41.63,"i":-0.87},{"t":41.7,"i":-0.84},
{"t":43,"i":-0.85},
{"t":45.45,"i":-0.84},{"t":45.52,"i":-0.73},{"t":45.58,"i":-0.9},{"t":45.65,"i":-0.84},
{"t":46.6,"i":-0.84},{"t":46.67,"i":-0.78},{"t":46.73,"i":-0.88},{"t":46.8,"i":-0.84},
{"t":50.4,"i":-0.84},{"t":50.47,"i":-0.78},{"t":50.53,"i":-0.87},{"t":50.6,"i":-0.84},
{"t":53.7,"i":-0.84},{"t":53.77,"i":-0.76},{"t":53.83,"i":-0.9},{"t":53.9,"i":-0.84},
{"t":54.9,"i":-0.84},{"t":54.97,"i":-0.78},{"t":55.03,"i":-0.88},{"t":55.1,"i":-0.84},
{"t":55.9,"i":-0.84},{"t":55.97,"i":-0.74},{"t":56.03,"i":-1.0},{"t":56.1,"i":-0.84},
{"t":60.2,"i":-0.84},{"t":60.27,"i":-0.78},{"t":60.33,"i":-0.89},{"t":60.4,"i":-0.84},
{"t":64,"i":-0.83},
{"t":68.2,"i":-0.84},{"t":68.27,"i":-0.76},{"t":68.33,"i":-0.9},{"t":68.4,"i":-0.84},
{"t":72.05,"i":-0.84},{"t":72.12,"i":-0.79},{"t":72.18,"i":-0.88},{"t":72.25,"i":-0.84},
{"t":77,"i":-0.85},
{"t":81,"i":-0.83},
{"t":86.7,"i":-0.84},{"t":86.77,"i":-0.77},{"t":86.83,"i":-0.89},{"t":86.9,"i":-0.84},
{"t":90.3,"i":-0.84},{"t":90.37,"i":-0.79},{"t":90.43,"i":-0.88},{"t":90.5,"i":-0.84},
{"t":95,"i":-0.83},
{"t":101.25,"i":-0.84},{"t":101.32,"i":-0.74},{"t":101.38,"i":-0.95},{"t":101.45,"i":-0.84},
{"t":106,"i":-0.85},
{"t":110,"i":-0.84}
],
"ho_b":[
{"t":17.8},{"t":20.59},{"t":27.3},{"t":29.16},{"t":32.64},{"t":34.25},{"t":35.87},{"t":37.36},{"t":40.22},{"t":41.59},{"t":45.62},{"t":46.68},{"t":47.55},{"t":50.47},{"t":51.65},{"t":52.77},{"t":53.82},{"t":55.0},{"t":55.99},{"t":59.28},{"t":60.09},{"t":60.84},{"t":61.77},{"t":62.58},{"t":63.32},{"t":63.94},{"t":64.56},{"t":65.5},{"t":67.36},{"t":68.29},{"t":70.15},{"t":71.27},{"t":72.14},{"t":73.14},{"t":75.0},{"t":75.74},{"t":76.49},{"t":77.3},{"t":78.23},{"t":79.16},{"t":79.6},{"t":80.4},{"t":82.27},{"t":82.89},{"t":84.94},{"t":85.81},{"t":86.8},{"t":87.55},{"t":89.41},{"t":90.4},{"t":93.13},{"t":93.76},{"t":94.25},{"t":95.0},{"t":95.62},{"t":96.24},{"t":96.86},{"t":97.61},{"t":98.42},{"t":99.35},{"t":100.28},{"t":101.33},{"t":101.96},{"t":102.95},{"t":103.82},{"t":104.32},{"t":105.06},{"t":105.87},{"t":106.8},{"t":107.55},{"t":108.66}
]
},
"hconcat":[
{
"width":509,"height":408,
"resolve":{"axis":{"x":"independent","y":"independent"}},
"layer":[
{"data":{"name":"nd_o"},
 "mark":{"type":"point","filled":false,"fill":"#d01c1c","size":144,"strokeWidth":1,"opacity":1},
 "encoding":{
  "x":{"field":"t","type":"quantitative","scale":{"domain":[15,110],"nice":false,"zero":false},
       "axis":{"orient":"bottom","values":[15,30,45,60,75,90,105],"tickSize":-7,"labelFlush":false,"labelPadding":14,"labelFontSize":17,"title":"2θ(°)","titleFontSize":20,"titlePadding":14}},
  "y":{"field":"i","type":"quantitative","scale":{"domain":[-0.787,2.991],"nice":false,"zero":false},
       "axis":{"orient":"left","values":[0,1,2],"tickSize":-7,"labels":false,"title":"Intensity (arbs)","titleFontSize":20.5,"titlePadding":16,"titleY":218}},
  "color":{"datum":"o","type":"nominal","scale":{"domain":["o","c","d","b"],"range":["#d01c1c","#1a1a1a","#6c6cb8","#5a9a5a"]},
       "legend":{"orient":"none","legendX":281,"legendY":116,"title":null,"strokeColor":"#707070","fillColor":"white","padding":12,"labelFont":"Liberation Sans","labelFontSize":18,"labelColor":"black","symbolSize":100,"symbolStrokeWidth":1,"symbolOffset":20.5,"labelOffset":14,"rowPadding":3.7,"labelExpr":"datum.label=='o'?'Observed':datum.label=='c'?'Calculated':datum.label=='d'?'Difference':'Bragg Reflection'"}},
  "shape":{"datum":"o","type":"nominal","scale":{"domain":["o","c","d","b"],"range":["M-0.28,0A0.28,0.28,0,1,1,0.28,0A0.28,0.28,0,1,1,-0.28,0Z","M-4.3,0H4.3","M-4.3,0H4.3","M0,-0.5V0.5"]},
       "legend":{"orient":"none","legendX":281,"legendY":116,"title":null,"strokeColor":"#707070","fillColor":"white","padding":12,"labelFont":"Liberation Sans","labelFontSize":18,"labelColor":"black","symbolSize":100,"symbolStrokeWidth":1,"symbolOffset":20.5,"labelOffset":14,"rowPadding":3.7,"labelExpr":"datum.label=='o'?'Observed':datum.label=='c'?'Calculated':datum.label=='d'?'Difference':'Bragg Reflection'"}}
 }},
{"data":{"name":"nd_c"},
 "mark":{"type":"line","color":"#111111","strokeWidth":1},
 "encoding":{
  "x":{"field":"t","type":"quantitative","axis":{"orient":"top","values":[15,30,45,60,75,90,105],"tickSize":-7,"labels":false,"title":null}},
  "y":{"field":"i","type":"quantitative","axis":{"orient":"right","values":[0,1,2],"tickSize":-7,"labels":false,"title":null}}
 }},
{"data":{"name":"nd_d"},
 "mark":{"type":"line","color":"#1f1fa0","strokeWidth":1},
 "encoding":{
  "x":{"field":"t","type":"quantitative","axis":{"orient":"bottom","values":[22.5,37.5,52.5,67.5,82.5,97.5],"tickSize":-4,"labels":false,"title":null}},
  "y":{"field":"i","type":"quantitative","axis":null}
 }},
{"data":{"name":"nd_b"},
 "mark":{"type":"point","filled":false,"size":144,"strokeWidth":1,"opacity":1},
 "encoding":{
  "x":{"field":"t","type":"quantitative","axis":{"orient":"top","values":[22.5,37.5,52.5,67.5,82.5,97.5],"tickSize":-4,"labels":false,"title":null}},
  "y":{"datum":-0.19,"type":"quantitative","axis":null},
  "color":{"datum":"b","type":"nominal"},
  "shape":{"datum":"b","type":"nominal"}
 }},
{"data":{"values":[{}]},
 "encoding":{"x":{"datum":67.13,"type":"quantitative","axis":null},"y":{"datum":2.468,"type":"quantitative","axis":null}},
 "layer":[
  {"mark":{"type":"text","text":"Li","font":"Liberation Sans","fontSize":34,"align":"left","baseline":"alphabetic","color":"black"}},
  {"mark":{"type":"text","text":"3","font":"Liberation Sans","fontSize":22,"align":"left","baseline":"alphabetic","color":"black","dx":26.5,"dy":13}},
  {"mark":{"type":"text","text":"Nd","font":"Liberation Sans","fontSize":34,"align":"left","baseline":"alphabetic","color":"black","dx":38.7}},
  {"mark":{"type":"text","text":"3","font":"Liberation Sans","fontSize":22,"align":"left","baseline":"alphabetic","color":"black","dx":82.2,"dy":13}},
  {"mark":{"type":"text","text":"Te","font":"Liberation Sans","fontSize":34,"align":"left","baseline":"alphabetic","color":"black","dx":94.4}},
  {"mark":{"type":"text","text":"2","font":"Liberation Sans","fontSize":22,"align":"left","baseline":"alphabetic","color":"black","dx":134.1,"dy":13}},
  {"mark":{"type":"text","text":"O","font":"Liberation Sans","fontSize":34,"align":"left","baseline":"alphabetic","color":"black","dx":146.3}},
  {"mark":{"type":"text","text":"12","font":"Liberation Sans","fontSize":22,"align":"left","baseline":"alphabetic","color":"black","dx":172.8,"dy":13}}
 ]},
{"data":{"values":[{}]},
 "mark":{"type":"text","text":"T = 298 K","font":"Liberation Sans","fontSize":20,"align":"left","baseline":"alphabetic","color":"black"},
 "encoding":{"x":{"datum":69.39,"type":"quantitative","axis":null},"y":{"datum":2.083,"type":"quantitative","axis":null}}}
]
},
{
"width":509,"height":408,
"resolve":{"axis":{"x":"independent","y":"independent"}},
"layer":[
{"data":{"name":"ho_o"},
 "mark":{"type":"point","filled":false,"fill":"#d01c1c","size":144,"strokeWidth":1,"opacity":1},
 "encoding":{
  "x":{"field":"t","type":"quantitative","scale":{"domain":[15,110],"nice":false,"zero":false},
       "axis":{"orient":"bottom","values":[15,30,45,60,75,90,105],"tickSize":-7,"labelFlush":false,"labelPadding":14,"labelFontSize":17,"title":"2θ(°)","titleFontSize":20,"titlePadding":14}},
  "y":{"field":"i","type":"quantitative","scale":{"domain":[-1.427,5.587],"nice":false,"zero":false},
       "axis":{"orient":"left","values":[-1,0,1,2,3,4,5],"tickSize":-7,"labels":false,"title":"Intensity (arbs)","titleFontSize":20.5,"titlePadding":16,"titleY":218}},
  "color":{"datum":"o","type":"nominal","scale":{"domain":["o","c","d","b"],"range":["#d01c1c","#c4c4c8","#5c5cb0","#5a9a5a"]},
       "legend":{"orient":"none","legendX":263,"legendY":131,"title":null,"strokeColor":"#707070","fillColor":"white","padding":12,"labelFont":"Liberation Sans","labelFontSize":18,"labelColor":"black","symbolSize":100,"symbolStrokeWidth":1,"symbolOffset":21.5,"labelOffset":15,"rowPadding":3.7,"labelExpr":"datum.label=='o'?'Observed':datum.label=='c'?'Calculated':datum.label=='d'?'Difference':'Bragg Reflection'"}},
  "shape":{"datum":"o","type":"nominal","scale":{"domain":["o","c","d","b"],"range":["M-0.28,0A0.28,0.28,0,1,1,0.28,0A0.28,0.28,0,1,1,-0.28,0Z","M-4.3,0H4.3","M-4.3,0H4.3","M0,-0.5V0.5"]},
       "legend":{"orient":"none","legendX":263,"legendY":131,"title":null,"strokeColor":"#707070","fillColor":"white","padding":12,"labelFont":"Liberation Sans","labelFontSize":18,"labelColor":"black","symbolSize":100,"symbolStrokeWidth":1,"symbolOffset":21.5,"labelOffset":15,"rowPadding":3.7,"labelExpr":"datum.label=='o'?'Observed':datum.label=='c'?'Calculated':datum.label=='d'?'Difference':'Bragg Reflection'"}}
 }},
{"data":{"name":"ho_c"},
 "mark":{"type":"line","color":"#111111","strokeWidth":1},
 "encoding":{
  "x":{"field":"t","type":"quantitative","axis":{"orient":"top","values":[15,30,45,60,75,90,105],"tickSize":-7,"labels":false,"title":null}},
  "y":{"field":"i","type":"quantitative","axis":{"orient":"right","values":[-1,0,1,2,3,4,5],"tickSize":-7,"labels":false,"title":null}}
 }},
{"data":{"name":"ho_d"},
 "mark":{"type":"line","color":"#1f1fa0","strokeWidth":1},
 "encoding":{
  "x":{"field":"t","type":"quantitative","axis":{"orient":"bottom","values":[22.5,37.5,52.5,67.5,82.5,97.5],"tickSize":-4,"labels":false,"title":null}},
  "y":{"field":"i","type":"quantitative","axis":null}
 }},
{"data":{"name":"ho_b"},
 "mark":{"type":"point","filled":false,"size":144,"strokeWidth":1,"opacity":1},
 "encoding":{
  "x":{"field":"t","type":"quantitative","axis":{"orient":"top","values":[22.5,37.5,52.5,67.5,82.5,97.5],"tickSize":-4,"labels":false,"title":null}},
  "y":{"datum":-0.19,"type":"quantitative","axis":null},
  "color":{"datum":"b","type":"nominal"},
  "shape":{"datum":"b","type":"nominal"}
 }},
{"data":{"values":[{}]},
 "encoding":{"x":{"datum":66.28,"type":"quantitative","axis":null},"y":{"datum":4.654,"type":"quantitative","axis":null}},
 "layer":[
  {"mark":{"type":"text","text":"Li","font":"Liberation Sans","fontSize":34,"align":"left","baseline":"alphabetic","color":"black"}},
  {"mark":{"type":"text","text":"3","font":"Liberation Sans","fontSize":22,"align":"left","baseline":"alphabetic","color":"black","dx":26.5,"dy":13}},
  {"mark":{"type":"text","text":"Ho","font":"Liberation Sans","fontSize":34,"align":"left","baseline":"alphabetic","color":"black","dx":38.7}},
  {"mark":{"type":"text","text":"3","font":"Liberation Sans","fontSize":22,"align":"left","baseline":"alphabetic","color":"black","dx":82.2,"dy":13}},
  {"mark":{"type":"text","text":"Te","font":"Liberation Sans","fontSize":34,"align":"left","baseline":"alphabetic","color":"black","dx":94.4}},
  {"mark":{"type":"text","text":"2","font":"Liberation Sans","fontSize":22,"align":"left","baseline":"alphabetic","color":"black","dx":134.1,"dy":13}},
  {"mark":{"type":"text","text":"O","font":"Liberation Sans","fontSize":34,"align":"left","baseline":"alphabetic","color":"black","dx":146.3}},
  {"mark":{"type":"text","text":"12","font":"Liberation Sans","fontSize":22,"align":"left","baseline":"alphabetic","color":"black","dx":172.8,"dy":13}}
 ]},
{"data":{"values":[{}]},
 "mark":{"type":"text","text":"T = 298 K","font":"Liberation Sans","fontSize":20,"align":"left","baseline":"alphabetic","color":"black"},
 "encoding":{"x":{"datum":66.62,"type":"quantitative","axis":null},"y":{"datum":3.863,"type":"quantitative","axis":null}}}
]
}
],
"resolve":{"scale":{"x":"independent","y":"independent","color":"independent","shape":"independent"},"legend":{"color":"independent","shape":"independent"}},
"config":{
 "font":"Liberation Sans",
 "view":{"stroke":"#000000","strokeWidth":1.5},
 "axis":{"domain":false,"grid":false,"tickColor":"#000000","tickWidth":1.5,"labelFont":"Liberation Sans","labelColor":"#000000","titleFont":"Liberation Sans","titleFontWeight":"normal","titleColor":"#000000"}
}
}
